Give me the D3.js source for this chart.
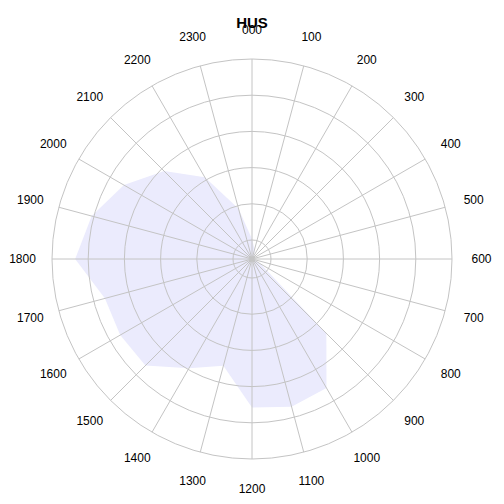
<!DOCTYPE html>
<html>
<head>
<meta charset="utf-8">
<script src="https://cdn.jsdelivr.net/npm/d3@7"></script>
<style>
  html, body { margin: 0; padding: 0; background: #ffffff; }
  svg { display: block; }
  text { font-family: "Liberation Sans", Arial, sans-serif; fill: #000; }
</style>
</head>
<body>
<script>
// ---- data ----
const title = "HUS";
const hours = ["000","100","200","300","400","500","600","700","800","900","1000","1100",
               "1200","1300","1400","1500","1600","1700","1800","1900","2000","2100","2200","2300"];
const values = [1.03, 0.75, 0.61, 0.475, 0.475, 0.475, 0.475, 0.56, 0.75, 3.38, 4.59, 4.70,
                4.58, 3.53, 3.96, 4.64, 4.68, 4.68, 5.36, 5.06, 4.56, 3.91, 3.08, 1.91];
const ringValues = [1, 2, 3, 4, 5, 6];
const radialLimits = [0.475, 6];

// ---- layout ----
const W = 504, H = 504;
const cx = 252, cy = 259;
const outerR = 200, labelR = 229.5;

const svg = d3.select("body").append("svg")
  .attr("width", W).attr("height", H)
  .style("background", "#ffffff");

const g = svg.append("g").attr("transform", `translate(${cx},${cy})`);

const angle = d3.scaleBand().domain(hours).range([0, 2 * Math.PI]).align(0).paddingInner(0).paddingOuter(0);
const ang = h => angle(h); // start of band: 000 at 0 rad (top)
const r = d3.scaleLinear().domain(radialLimits).range([0, outerR]);

// filled polygon
const line = d3.lineRadial()
  .angle((d, i) => ang(hours[i]))
  .radius(d => r(d))
  .curve(d3.curveLinearClosed);

g.append("path")
  .datum(values)
  .attr("d", line)
  .attr("fill", "#ebebfd")
  .attr("stroke", "none");

// rings
g.selectAll("circle.ring")
  .data(ringValues)
  .join("circle")
  .attr("class", "ring")
  .attr("r", d => r(d))
  .attr("fill", "none")
  .attr("stroke", "#c4c4c4")
  .attr("stroke-width", 1);

// spokes
g.selectAll("line.spoke")
  .data(hours)
  .join("line")
  .attr("class", "spoke")
  .attr("x1", 0).attr("y1", 0)
  .attr("x2", d => outerR * Math.sin(ang(d)))
  .attr("y2", d => -outerR * Math.cos(ang(d)))
  .attr("stroke", "#c4c4c4")
  .attr("stroke-width", 1);

// hour labels
g.selectAll("text.hour")
  .data(hours)
  .join("text")
  .attr("class", "hour")
  .attr("x", d => labelR * Math.sin(ang(d)))
  .attr("y", d => -labelR * Math.cos(ang(d)))
  .attr("text-anchor", "middle")
  .attr("dominant-baseline", "central")
  .style("font-size", "12px")
  .text(d => d);

// title
svg.append("text")
  .attr("x", cx)
  .attr("y", 27.5)
  .attr("text-anchor", "middle")
  .style("font-size", "15px")
  .style("font-weight", "bold")
  .text(title);
</script>
</body>
</html>
